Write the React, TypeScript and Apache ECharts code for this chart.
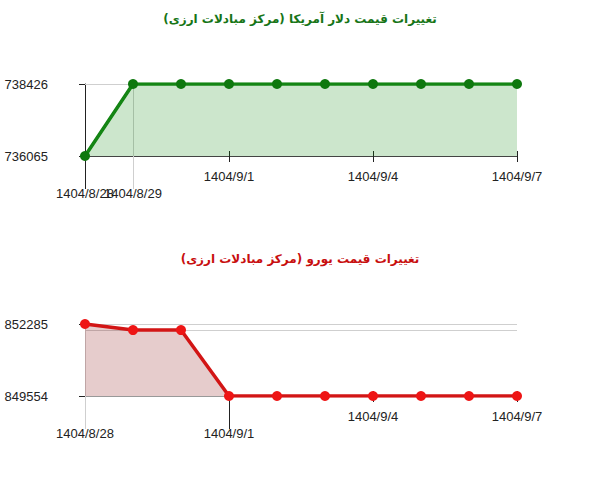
import React, { useEffect, useRef } from "react";
import * as echarts from "echarts";

const dates = [
  "1404/8/28", "1404/8/29", "1404/8/30", "1404/9/1", "1404/9/2",
  "1404/9/3", "1404/9/4", "1404/9/5", "1404/9/6", "1404/9/7",
];
const usdValues = [736065, 738426, 738426, 738426, 738426, 738426, 738426, 738426, 738426, 738426];
const eurValues = [852285, 852055, 852055, 849554, 849554, 849554, 849554, 849554, 849554, 849554];

const usdTitle = "تغییرات قیمت دلار آمریکا (مرکز مبادلات ارزی)";
const eurTitle = "تغییرات قیمت یورو (مرکز مبادلات ارزی)";

// tick labels: upper row (short ticks) and lower row (long tick lines)
const usdUpperLabels = ["1404/9/1", "1404/9/4", "1404/9/7"];
const usdLowerDark = ["1404/8/28"];
const usdLowerLight = ["1404/8/29"];
const eurUpperLabels = ["1404/9/4", "1404/9/7"];
const eurLowerDark = ["1404/9/1"];
const eurLowerLight = ["1404/8/28"];

const FONT = "'Liberation Sans', Arial, sans-serif";
const DARK = "#222";
const LIGHT = "#cfcfcf";

function pick(list: string[]) {
  return (index: number) => list.indexOf(dates[index]) >= 0;
}

function xAxes(grid: number, baseColor: string, upper: string[], lowDark: string[], lowLight: string[]) {
  const common = {
    type: "category",
    gridIndex: grid,
    data: dates,
    boundaryGap: false,
    position: "bottom",
  };
  const labelStyle = { color: DARK, fontSize: 13, fontFamily: FONT };
  return [
    {
      ...common,
      axisLine: { show: true, lineStyle: { color: baseColor, width: 1 } },
      axisTick: { show: true, interval: pick(upper), length: 6, lineStyle: { color: DARK } },
      axisLabel: { show: true, interval: pick(upper), margin: 14, ...labelStyle },
      splitLine: { show: false },
    },
    {
      ...common,
      axisLine: { show: false },
      axisTick: { show: true, inside: true, interval: pick(upper), length: 5, lineStyle: { color: DARK } },
      axisLabel: { show: false },
      splitLine: { show: false },
    },
    {
      ...common,
      axisLine: { show: false },
      axisTick: { show: true, interval: pick(lowDark), length: 33, lineStyle: { color: DARK } },
      axisLabel: { show: true, interval: pick(lowDark), margin: 31, ...labelStyle },
      splitLine: { show: false },
    },
    {
      ...common,
      axisLine: { show: false },
      axisTick: { show: true, interval: pick(lowLight), length: 33, lineStyle: { color: LIGHT } },
      axisLabel: { show: true, interval: pick(lowLight), margin: 31, ...labelStyle },
      splitLine: { show: true, interval: pick(lowLight), lineStyle: { color: LIGHT } },
    },
  ];
}

function yAxis(grid: number, values: number[], showLine: boolean) {
  const min = Math.min(...values);
  const max = Math.max(...values);
  return {
    type: "value",
    gridIndex: grid,
    min,
    max,
    axisLine: { show: showLine, lineStyle: { color: DARK } },
    axisTick: { show: true, length: 6, customValues: [min, max], lineStyle: { color: DARK } },
    axisLabel: {
      show: true,
      customValues: [min, max],
      margin: 37,
      color: DARK,
      fontSize: 13,
      fontFamily: FONT,
      formatter: (v: number) => String(v),
    },
    splitLine: { show: false },
  };
}

function series(values: number[], grid: number, lineColor: string, dotColor: string, fill: string) {
  const min = Math.min(...values);
  const gridVals = Array.from(new Set(values)).filter((v) => v !== min);
  return {
    type: "line",
    xAxisIndex: grid * 4,
    yAxisIndex: grid,
    data: values,
    symbol: "circle",
    symbolSize: 10,
    showSymbol: true,
    lineStyle: { color: lineColor, width: 3.5 },
    itemStyle: { color: dotColor },
    areaStyle: { color: fill, origin: "start", opacity: 1 },
    z: 3,
    markLine: {
      z: 1,
      silent: true,
      symbol: ["none", "none"],
      label: { show: false },
      lineStyle: { color: LIGHT, type: "solid", width: 1 },
      data: gridVals.map((v) => ({ yAxis: v })),
    },
  };
}

export default function App() {
  const ref = useRef<HTMLDivElement>(null);
  useEffect(() => {
    if (!ref.current) return;
    const chart = echarts.init(ref.current, null, { renderer: "svg" });
    chart.setOption({
      animation: false,
      backgroundColor: "#ffffff",
      title: [
        {
          text: usdTitle,
          left: "center",
          top: 8,
          textStyle: { color: "#177517", fontSize: 12, fontWeight: "bold", fontFamily: "'DejaVu Sans', sans-serif" },
        },
        {
          text: eurTitle,
          left: "center",
          top: 248,
          textStyle: { color: "#c80f0f", fontSize: 12, fontWeight: "bold", fontFamily: "'DejaVu Sans', sans-serif" },
        },
      ],
      grid: [
        { left: 85, top: 84, width: 432, height: 72, containLabel: false },
        { left: 85, top: 324, width: 432, height: 72, containLabel: false },
      ],
      xAxis: [
        ...xAxes(0, "#444", usdUpperLabels, usdLowerDark, usdLowerLight),
        ...xAxes(1, "#999", eurUpperLabels, eurLowerDark, eurLowerLight),
      ],
      yAxis: [yAxis(0, usdValues, true), yAxis(1, eurValues, false)],
      series: [
        series(usdValues, 0, "#148514", "#0e780e", "rgba(0,128,0,0.2)"),
        series(eurValues, 1, "#d21515", "#ee1515", "rgba(128,0,0,0.2)"),
      ],
    });
    return () => chart.dispose();
  }, []);
  return (
    <div
      ref={ref}
      style={{ position: "absolute", left: 0, top: 0, width: 600, height: 480 }}
    />
  );
}
